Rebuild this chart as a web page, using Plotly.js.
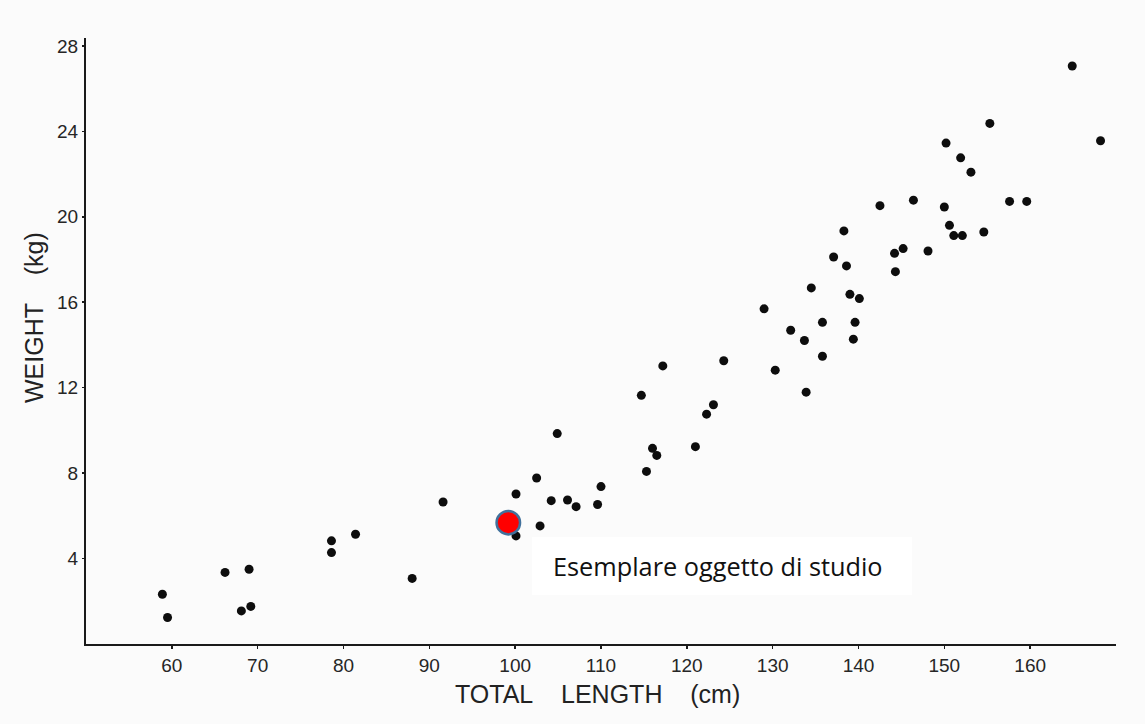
<!DOCTYPE html>
<html>
<head>
<meta charset="utf-8">
<script src="https://cdn.plot.ly/plotly-3.0.1.min.js"></script>
<style>
  html, body { margin: 0; padding: 0; background: #fbfbfb; }
  #chart { width: 1145px; height: 724px; }
</style>
</head>
<body>
<div id="chart"></div>
<script>
// Total length (cm) and weight (kg) of specimens
const lengthCm = [58.9, 59.5, 66.2, 69.0, 68.1, 69.2, 78.6, 78.6, 81.4, 88.0,
  91.6, 100.1, 100.1, 102.9, 104.2, 106.1, 107.1, 109.6, 110.0, 102.5,
  104.9, 114.7, 115.3, 116.0, 116.5, 117.2, 121.0, 122.3, 123.1, 124.3,
  129.0, 130.3, 132.1, 133.7, 133.9, 134.5, 135.8, 135.8, 137.1, 138.3,
  138.6, 139.0, 139.4, 139.6, 140.1, 142.5, 144.2, 144.3, 145.2, 146.4,
  148.1, 150.0, 150.2, 150.6, 151.1, 151.9, 152.1, 153.1, 154.6, 155.3,
  157.6, 159.6, 164.9, 168.2];
const weightKg = [2.33, 1.24, 3.35, 3.50, 1.55, 1.76, 4.83, 4.28, 5.14, 3.07,
  6.65, 7.02, 5.06, 5.53, 6.71, 6.74, 6.43, 6.53, 7.37, 7.77,
  9.85, 11.64, 8.08, 9.16, 8.83, 13.02, 9.24, 10.76, 11.20, 13.26,
  15.69, 12.82, 14.69, 14.21, 11.79, 16.67, 15.06, 13.47, 18.12, 19.34,
  17.70, 16.37, 14.27, 15.06, 16.17, 20.52, 18.29, 17.43, 18.51, 20.78,
  18.40, 20.46, 23.45, 19.60, 19.12, 22.76, 19.12, 22.09, 19.29, 24.37,
  20.72, 20.72, 27.06, 23.56];

// Highlighted specimen
const studyLength = [99.2];
const studyWeight = [5.68];
const studyLabel = "Esemplare oggetto di studio";

// Ticks
const xTicks = [60, 70, 80, 90, 100, 110, 120, 130, 140, 150, 160];
const yTicks = [4, 8, 12, 16, 20, 24, 28];

const axisFont = {family: "Liberation Sans, Arial, sans-serif", size: 19, color: "#262626"};

const data = [
  {
    type: "scatter", mode: "markers",
    x: lengthCm, y: weightKg,
    marker: {color: "#0d0d0d", size: 9, line: {width: 0}},
    hoverinfo: "x+y", showlegend: false
  },
  {
    type: "scatter", mode: "markers",
    x: studyLength, y: studyWeight,
    marker: {color: "#ff0000", size: 23.5, line: {color: "#41719c", width: 2.5}},
    hoverinfo: "x+y", showlegend: false
  }
];

const layout = {
  width: 1145, height: 724,
  margin: {l: 86, r: 29, t: 38, b: 80, pad: 0},
  paper_bgcolor: "#fbfbfb",
  plot_bgcolor: "#fbfbfb",
  xaxis: {
    range: [50, 170], tickvals: xTicks, ticktext: xTicks.map(String),
    showgrid: false, zeroline: false,
    showline: true, linecolor: "#1a1a1a", linewidth: 2,
    ticks: "outside", ticklen: 3, tickwidth: 1.5, tickcolor: "#1a1a1a",
    tickfont: axisFont, fixedrange: true
  },
  yaxis: {
    range: [0, 28.37], tickvals: yTicks, ticktext: yTicks.map(String),
    showgrid: false, zeroline: false,
    showline: true, linecolor: "#1a1a1a", linewidth: 2,
    ticks: "outside", ticklen: 2, tickwidth: 1.5, tickcolor: "#1a1a1a",
    tickfont: axisFont, fixedrange: true
  },
  shapes: [
    {type: "rect", xref: "paper", yref: "paper",
     x0: (532 - 86) / 1030, x1: (912 - 86) / 1030,
     y0: (644 - 595) / 606, y1: (644 - 537) / 606,
     fillcolor: "#ffffff", line: {width: 0}, layer: "below"}
  ],
  annotations: [
    {xref: "paper", yref: "paper", x: (551 - 86) / 1030, y: (644 - 566) / 606,
     xanchor: "left", yanchor: "middle", showarrow: false,
     text: studyLabel,
     font: {family: "Open Sans, Noto Sans, sans-serif", size: 25.3, color: "#111111"}},
    {xref: "paper", yref: "paper", x: 0.4966, y: (644 - 694) / 606,
     xanchor: "center", yanchor: "middle", showarrow: false,
     text: "TOTAL\u00a0\u00a0\u00a0\u00a0LENGTH\u00a0\u00a0\u00a0\u00a0(cm)",
     font: {family: "Liberation Sans, Arial, sans-serif", size: 25, color: "#222222"}},
    {xref: "paper", yref: "paper", x: (34 - 86) / 1030, y: (644 - 318) / 606,
     xanchor: "center", yanchor: "middle", showarrow: false, textangle: -90,
     text: "WEIGHT\u00a0\u00a0\u00a0\u00a0(kg)",
     font: {family: "Liberation Sans, Arial, sans-serif", size: 25, color: "#222222"}}
  ]
};

Plotly.newPlot("chart", data, layout, {displayModeBar: false, staticPlot: true});
</script>
</body>
</html>
